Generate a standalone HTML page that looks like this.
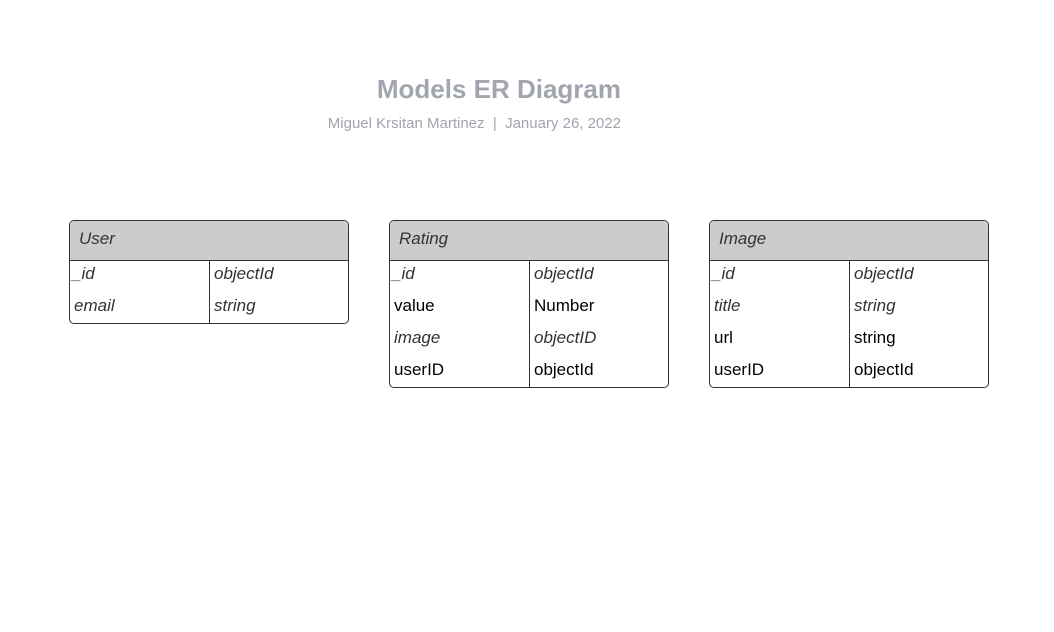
<!DOCTYPE html>
<html><head><style>
body{margin:0;width:1054px;height:632px;background:#fff;position:relative;font-family:"Liberation Sans",Arial,sans-serif;overflow:hidden}
.t{position:absolute;right:433px;white-space:nowrap;color:#a1a5ad}
.tb{position:absolute;width:278px;border:1px solid #333;border-radius:5px;overflow:hidden;background:#fff}
.h{height:39px;background:#ccc;border-bottom:1px solid #333;font-size:17px;font-style:italic;color:#333;line-height:36px;padding-left:9px}
.r{height:32px;position:relative;font-size:17px;line-height:26px;color:#000}
.r .a{position:absolute;left:4px;top:0}
.r .b{position:absolute;left:144px;top:0}
.i{font-style:italic;color:#333}
.d{position:absolute;left:139px;top:40px;bottom:0;width:1px;background:#333}
</style></head><body>
<div class="t" style="top:74px;font-size:26px;font-weight:bold">Models ER Diagram</div>
<div class="t" style="top:115px;font-size:15px">Miguel Krsitan Martinez &nbsp;|&nbsp; January 26, 2022</div>

<div class="tb" style="left:69px;top:220px">
<div class="h">User</div><div class="d"></div>
<div class="r i"><span class="a" style="left:2px">_id</span><span class="b">objectId</span></div>
<div class="r i" style="height:30px"><span class="a">email</span><span class="b">string</span></div>
</div>

<div class="tb" style="left:389px;top:220px">
<div class="h">Rating</div><div class="d"></div>
<div class="r i"><span class="a" style="left:2px">_id</span><span class="b">objectId</span></div>
<div class="r"><span class="a">value</span><span class="b">Number</span></div>
<div class="r i"><span class="a">image</span><span class="b">objectID</span></div>
<div class="r" style="height:30px"><span class="a">userID</span><span class="b">objectId</span></div>
</div>

<div class="tb" style="left:709px;top:220px">
<div class="h">Image</div><div class="d"></div>
<div class="r i"><span class="a" style="left:2px">_id</span><span class="b">objectId</span></div>
<div class="r i"><span class="a">title</span><span class="b">string</span></div>
<div class="r"><span class="a">url</span><span class="b">string</span></div>
<div class="r" style="height:30px"><span class="a">userID</span><span class="b">objectId</span></div>
</div>
</body></html>
